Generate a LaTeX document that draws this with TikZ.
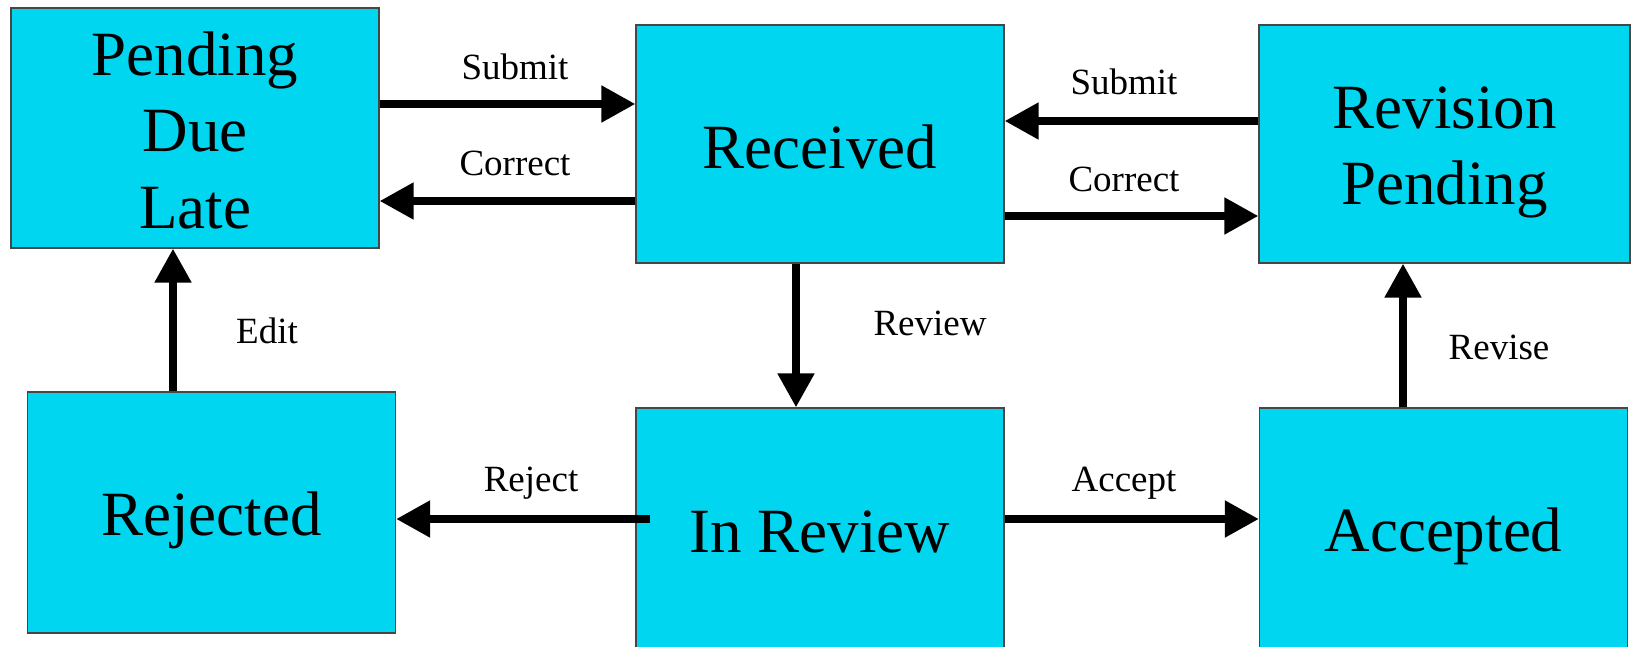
\documentclass[tikz,border=0pt]{standalone}
\usepackage{fontspec}
\setmainfont{Liberation Serif}
\usetikzlibrary{arrows.meta}
\usetikzlibrary{calc}
\usetikzlibrary{positioning}

\definecolor{boxcyan}{RGB}{0,214,240}
\definecolor{boxline}{RGB}{70,70,70}

\tikzset{
  state/.style={draw=boxline, line width=0.6pt, fill=boxcyan, minimum width=184pt, inner sep=0pt},
  statetext/.style={align=center, inner sep=0pt, font=\fontsize{31.5}{38.3}\selectfont},
  arr/.style={line width=4pt, -{Triangle[length=17pt,width=17.5pt]}},
  lbl/.style={font=\fontsize{18.5}{22}\selectfont}
}

\begin{document}
\begin{tikzpicture}[x=0.5pt,y=-0.5pt]
    \useasboundingbox (0,0) rectangle (1632,647);
    \clip (0,0) rectangle (1632,647);

    % States, top row
    \node[state, minimum height=120pt,
          label={[statetext, yshift=-1.05pt]center:Pending\\Due\\Late}] (pend) at (195,128) {};
    \node[state, minimum height=119pt,
          label={[statetext, yshift=-1.6pt]center:Received}] (recv) at (820,144) {};
    \node[state, minimum height=119pt, minimum width=185.5pt,
          label={[statetext, yshift=-4.16pt, font=\fontsize{31.5}{38}\selectfont]center:Revision\\Pending}] (revp) at (1444.5,144) {};

    % States, bottom row
    \node[state, minimum height=120.5pt,
          label={[statetext, yshift=-3.85pt]center:Rejected}] (rej) at (211.5,512.5) {};
    \node[state, minimum height=125pt,
          label={[statetext, yshift=0.65pt]center:In Review}] (inrev) at (820,533) {};
    \node[state, minimum height=125pt,
          label={[statetext, yshift=-1.75pt]center:Accepted}] (acc) at (1443.5,533) {};

    % Transitions between top row
    \draw[arr] (pend.east |- 0,104) -- (recv.west |- 0,104);
    \draw[arr] (recv.west |- 0,201) -- (pend.east |- 0,201);
    \draw[arr] (revp.west |- 0,121) -- (recv.east |- 0,121);
    \draw[arr] (recv.east |- 0,216) -- (revp.west |- 0,216);

    % Vertical transitions
    \draw[arr] (recv.south -| 796,0) -- (inrev.north -| 796,0);
    \draw[arr] (rej.north -| 173,0) -- (pend.south -| 173,0);
    \draw[arr] (acc.north -| 1403,0) -- (revp.south -| 1403,0);

    % Transitions from review
    \draw[arr] ($(inrev.west |- 0,519)+(15,0)$) -- (rej.east |- 0,519);
    \draw[arr] (inrev.east |- 0,519) -- (acc.west |- 0,519);

    % Labels
    \node[lbl] (lsubmitl) at (515,67) {Submit};
    \node[lbl] (lcorrectl) at (515,163) {Correct};
    \node[lbl] (lsubmitr) at (1124,82) {Submit};
    \node[lbl] (lcorrectr) at (1124,179) {Correct};
    \node[lbl] (lreview) at (930,323) {Review};
    \node[lbl] (ledit) at (267,331) {Edit};
    \node[lbl] (lrevise) at (1499,347) {Revise};
    \node[lbl] (lreject) at (531,483) {Reject};
    \node[lbl] (laccept) at (1124,483) {Accept};
\end{tikzpicture}
\end{document}
